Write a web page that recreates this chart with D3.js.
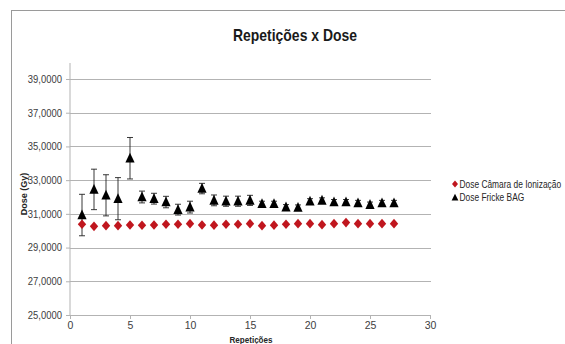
<!DOCTYPE html>
<html>
<head>
<meta charset="utf-8">
<script src="https://d3js.org/d3.v7.min.js"></script>
<style>
  body { margin: 0; background: #fff; }
  text { font-family: "Liberation Sans", Arial, sans-serif; }
</style>
</head>
<body>
<div id="chart"></div>
<script>
// repetições 1..27
var repeticoes = [1,2,3,4,5,6,7,8,9,10,11,12,13,14,15,16,17,18,19,20,21,22,23,24,25,26,27];
// Dose Câmara de Ionização (Gy)
var doseCamara = [30.38,30.26,30.30,30.30,30.34,30.32,30.34,30.38,30.38,30.42,30.34,30.33,30.38,30.38,30.42,30.30,30.33,30.38,30.42,30.42,30.36,30.42,30.48,30.42,30.42,30.42,30.42];
// Dose Fricke BAG (Gy) e barras de erro
var doseFricke = [30.93,32.45,32.10,31.90,34.30,32.00,31.90,31.70,31.25,31.40,32.50,31.80,31.75,31.75,31.80,31.60,31.60,31.40,31.38,31.75,31.80,31.70,31.70,31.65,31.55,31.65,31.65];
var erroFricke = [1.23,1.20,1.22,1.25,1.23,0.35,0.32,0.34,0.32,0.35,0.31,0.32,0.30,0.30,0.30,0.15,0.15,0.15,0.15,0.15,0.15,0.15,0.15,0.15,0.15,0.15,0.15];
var yTicks = [25,27,29,31,33,35,37,39];
var xTicks = [0,5,10,15,20,25,30];
var legendas = ["Dose Câmara de Ionização","Dose Fricke BAG"];

var W=565, H=344;
var svg=d3.select("#chart").append("svg").attr("width",W).attr("height",H);

// estreita o texto (fonte tipo Calibri)
function estreitar(sel,k){
  sel.each(function(){
    var w=this.getComputedTextLength();
    d3.select(this).attr("textLength",w*k).attr("lengthAdjust","spacingAndGlyphs");
  });
}

// borda da área do gráfico
svg.append("rect").attr("x",11.5).attr("y",10.5).attr("width",W).attr("height",H)
  .attr("fill","#fff").attr("stroke","#9a9a9a").attr("stroke-width",1);

var x=d3.scaleLinear().domain([0,30]).range([70,430]);
var y=d3.scaleLinear().domain([25,39]).range([315,79]);

// grade
svg.append("g").selectAll("line").data(yTicks.slice(1)).enter().append("line")
  .attr("x1",70).attr("x2",431).attr("y1",function(d){return Math.round(y(d))+0.5;})
  .attr("y2",function(d){return Math.round(y(d))+0.5;})
  .attr("stroke","#b3b3b3").attr("stroke-width",1.2);

// eixo y
var yAxis=d3.axisLeft(y).tickValues(yTicks).tickSize(4).tickPadding(4)
  .tickFormat(function(d){return d3.format(".4f")(d).replace(".",",");});
var gy=svg.append("g").attr("transform","translate(70,0)").call(yAxis);
gy.select(".domain").remove();
gy.append("line").attr("x1",0).attr("x2",0).attr("y1",63).attr("y2",315).attr("stroke","#b3b3b3");
gy.selectAll(".tick line").attr("stroke","#b3b3b3");
gy.selectAll(".tick text").attr("fill","#404040").style("font-size","10.5px").call(estreitar,0.9);

// eixo x
var xAxis=d3.axisBottom(x).tickValues(xTicks).tickSize(4).tickPadding(3);
var gx=svg.append("g").attr("transform","translate(0,315)").call(xAxis);
gx.select(".domain").attr("stroke","#b3b3b3");
gx.selectAll(".tick line").attr("stroke","#b3b3b3");
gx.selectAll(".tick text").attr("fill","#404040").style("font-size","10.5px");

// títulos
svg.append("text").attr("x",295).attr("y",41).attr("text-anchor","middle")
  .attr("font-weight","bold").attr("fill","#1a1a1a").style("font-size","17px")
  .text("Repetições x Dose").call(estreitar,0.82);
svg.append("text").attr("x",251).attr("y",343).attr("text-anchor","middle")
  .attr("font-weight","bold").attr("fill","#262626").style("font-size","9.5px")
  .text("Repetições").call(estreitar,0.85);
svg.append("text").attr("transform","translate(27,194) rotate(-90)").attr("text-anchor","middle")
  .attr("font-weight","bold").attr("fill","#262626").style("font-size","9.5px")
  .text("Dose (Gy)").call(estreitar,0.95);

// barras de erro
var eb=svg.append("g").selectAll("g").data(repeticoes).enter().append("g");
eb.append("line").attr("x1",function(d){return x(d);}).attr("x2",function(d){return x(d);})
  .attr("y1",function(d,i){return y(doseFricke[i]+erroFricke[i]);})
  .attr("y2",function(d,i){return y(doseFricke[i]-erroFricke[i]);})
  .attr("stroke","#222").attr("stroke-width",0.9);
[1,-1].forEach(function(s){
  eb.append("line").attr("x1",function(d){return x(d)-3;}).attr("x2",function(d){return x(d)+3;})
    .attr("y1",function(d,i){return y(doseFricke[i]+s*erroFricke[i]);})
    .attr("y2",function(d,i){return y(doseFricke[i]+s*erroFricke[i]);})
    .attr("stroke","#222").attr("stroke-width",0.9);
});

var diamante="M0,-4.8L4.2,0L0,4.8L-4.2,0Z";
var triangulo="M0,-5.5L4.6,4.3L-4.6,4.3Z";

svg.append("g").selectAll("path").data(repeticoes).enter().append("path")
  .attr("d",diamante).attr("fill","#c0161e")
  .attr("transform",function(d,i){return "translate("+x(d)+","+y(doseCamara[i])+")";});
svg.append("g").selectAll("path").data(repeticoes).enter().append("path")
  .attr("d",triangulo).attr("fill","#000")
  .attr("transform",function(d,i){return "translate("+x(d)+","+y(doseFricke[i])+")";});

// legenda (texto estreitado com escala horizontal)
var lg=svg.append("g").selectAll("g").data(legendas).enter().append("g")
  .attr("transform",function(d,i){return "translate(455,"+(184+i*13.5)+")";});
lg.append("path").attr("d",function(d,i){return i===0?"M0,-3.5L3,0L0,3.5L-3,0Z":"M0,-3.8L3.4,3L-3.4,3Z";})
  .attr("fill",function(d,i){return i===0?"#c0161e":"#000";});
lg.append("text").attr("transform","translate(4.5,3.6) scale(0.84,1)")
  .attr("fill","#262626").style("font-size","10px")
  .text(function(d){return d;});
</script>
</body>
</html>
